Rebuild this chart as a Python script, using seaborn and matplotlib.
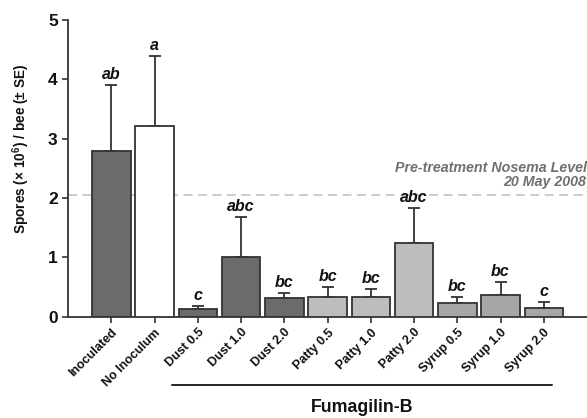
import matplotlib
matplotlib.use("Agg")
import matplotlib.pyplot as plt
import seaborn as sns
import pandas as pd
import numpy as np

categories = ["Inoculated", "No Inoculum", "Dust 0.5", "Dust 1.0", "Dust 2.0",
              "Patty 0.5", "Patty 1.0", "Patty 2.0", "Syrup 0.5", "Syrup 1.0", "Syrup 2.0"]
means = [2.80, 3.22, 0.13, 1.00, 0.31, 0.34, 0.34, 1.25, 0.23, 0.37, 0.15]
err_top = [3.90, 4.39, 0.19, 1.68, 0.40, 0.51, 0.47, 1.83, 0.33, 0.59, 0.25]
letters = ["ab", "a", "c", "abc", "bc", "bc", "bc", "abc", "bc", "bc", "c"]
colors = ["#6b6b6b", "#ffffff", "#6b6b6b", "#6b6b6b", "#6b6b6b",
          "#bdbdbd", "#bdbdbd", "#bdbdbd", "#a6a6a6", "#a6a6a6", "#a6a6a6"]
pretreatment_level = 2.06

sns.set_style("white")
plt.rcParams['font.family'] = ['Liberation Sans', 'DejaVu Sans']
plt.rcParams['text.color'] = '#111111'
plt.rcParams['axes.labelcolor'] = '#111111'
plt.rcParams['xtick.color'] = '#111111'
plt.rcParams['ytick.color'] = '#111111'
plt.rcParams['mathtext.fontset'] = 'custom'
plt.rcParams['mathtext.bf'] = 'Liberation Sans:bold'
plt.rcParams['mathtext.rm'] = 'Liberation Sans'

df = pd.DataFrame({"cat": categories, "mean": means})

fig = plt.figure(figsize=(5.87, 4.18), dpi=100)
ax = fig.add_axes([0.116, 0.242, 0.884, 0.71])

sns.barplot(data=df, x="cat", y="mean", hue="cat", palette=colors, legend=False,
            width=0.89, edgecolor="#333333", linewidth=1.3, ax=ax, zorder=3)

x = np.arange(len(categories))
yerr = np.array(err_top) - np.array(means)
ax.errorbar(x, means, yerr=[np.zeros_like(yerr), yerr], fmt="none",
            ecolor="#333333", elinewidth=1.3, capsize=4, capthick=1.3, zorder=2)

for xi, top, lab in zip(x, err_top, letters):
    ax.text(xi, top + 0.05, lab, ha="center", va="bottom", fontsize=11.5,
            fontweight="bold", fontstyle="italic", color="#111111")

ax.axhline(pretreatment_level, color="#c8c8c8", linestyle=(0, (5, 3)), linewidth=1.3, zorder=1)
ax.text(10.99, pretreatment_level + 0.1, "Pre-treatment Nosema Level\n20 May 2008",
        ha="right", va="bottom", fontsize=10.3, fontweight="bold", fontstyle="italic",
        color="#707070", linespacing=0.95)

ax.set_xlim(-1, 11)
ax.set_ylim(0, 5)
ax.set_yticks([0, 1, 2, 3, 4, 5])
ax.set_yticklabels(["0", "1", "2", "3", "4", "5"], fontsize=12.5, fontweight="bold")
ax.set_xticks(x)
ax.set_xticklabels(categories, rotation=45, ha="right", rotation_mode="anchor",
                   fontsize=9, fontweight="bold")
ax.set_xlabel("")
ax.set_ylabel("Spores (× 10$^{\\mathbf{6}}$) / bee (± SE)", fontsize=9.8, fontweight="bold", labelpad=8)
ax.yaxis.set_label_coords(-0.069, 0.566)

for s in ["top", "right"]:
    ax.spines[s].set_visible(False)
for s in ["left", "bottom"]:
    ax.spines[s].set_color("#333333")
    ax.spines[s].set_linewidth(1.3)
ax.tick_params(axis="both", direction="out", length=4, width=1.2, color="#333333",
               bottom=True, left=True)
ax.tick_params(axis="x", pad=3)

# Fumagilin-B bracket line and label
ax.plot([1.41, 10.18], [-1.15, -1.15], color="#222222", linewidth=1.4,
        clip_on=False, transform=ax.transData)
ax.text(5.8, -1.52, "Fumagilin-B", ha="center", va="center", fontsize=12.8,
        fontweight="bold", color="#111111", clip_on=False)

fig.savefig("out.png", dpi=100)
